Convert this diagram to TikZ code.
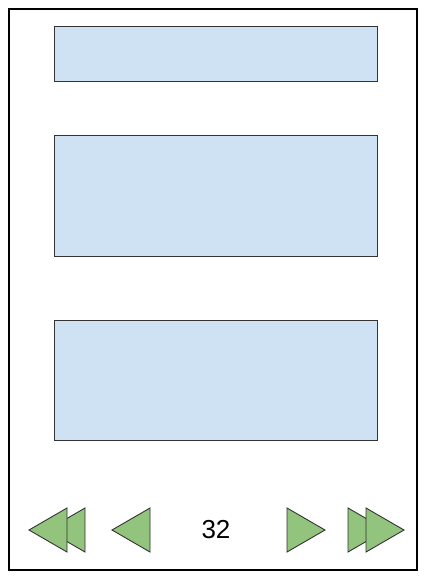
\documentclass[tikz,border=0pt]{standalone}
\usepackage{fontspec}
\setmainfont{Liberation Sans}
\usetikzlibrary{positioning}
\definecolor{panelblue}{HTML}{CFE2F3}
\definecolor{navgreen}{HTML}{93C47D}
\definecolor{edgegray}{HTML}{333333}
\tikzset{
  frame/.style={draw=black, line width=2pt, fill=white},
  panel/.style={draw=edgegray, fill=panelblue, line width=1pt},
  navtri/.style={draw=edgegray, fill=navgreen, line width=0.9pt, line join=miter},
  pagenum/.style={font=\fontsize{26}{30}\selectfont, text=black, inner sep=0pt},
}
% a left/right pointing triangle: base x, tip x, centre y, half height
\newcommand{\navtri}[4]{\draw[navtri] (#1,#3-#4) -- (#2,#3) -- (#1,#3+#4) -- cycle;}
\begin{document}
\begin{tikzpicture}[x=1pt,y=-1pt]
  \useasboundingbox (0,0) rectangle (427,579);
  % page frame
  \draw[frame] (9,9) rectangle (417,570);
  % content panels
  \draw[panel] (54,26) rectangle (377,81);
  \draw[panel] (54,135) rectangle (377,256);
  \draw[panel] (54,320) rectangle (377,440);
  % navigation bar
  \navtri{85}{47}{530}{22}
  \navtri{67}{29}{530}{22}
  \navtri{150}{112}{530}{22}
  \node[pagenum] (page) at (216,530) {32};
  \navtri{287}{325}{530}{22}
  \navtri{348}{386}{530}{22}
  \navtri{366}{404}{530}{22}
\end{tikzpicture}
\end{document}
